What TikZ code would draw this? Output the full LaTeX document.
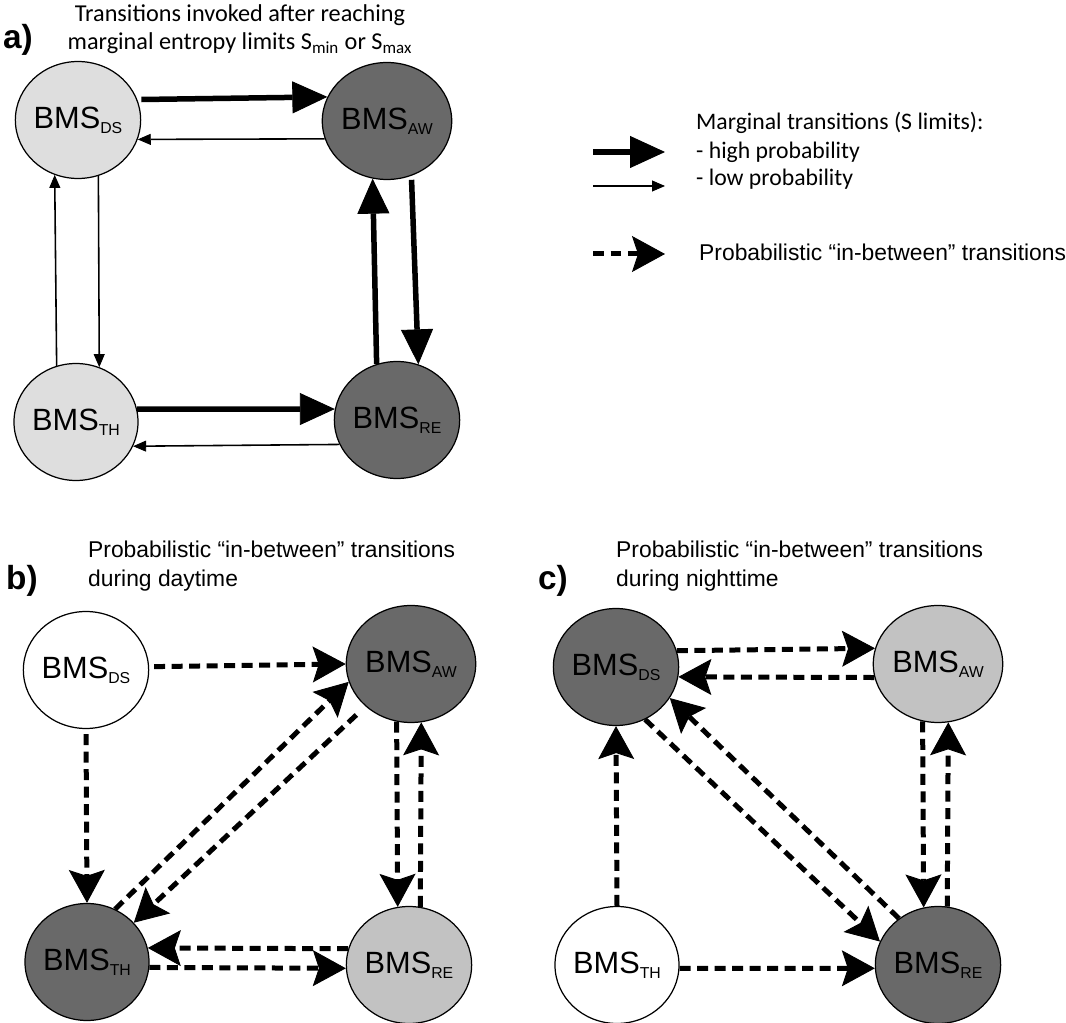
\documentclass[tikz,border=0pt]{standalone}
\usepackage{fontspec}
\newfontfamily\arialfont{Liberation Sans}
\newfontfamily\calibrifont{Carlito}
\usetikzlibrary{arrows.meta,shapes.geometric}

\definecolor{bmslight}{gray}{0.87}
\definecolor{bmsmid}{gray}{0.76}
\definecolor{bmsdark}{gray}{0.41}

\newcommand{\bms}[1]{BMS\raisebox{-0.3ex}{\fontsize{9}{9}\selectfont #1}}

\tikzset{
  bmsstate/.style={ellipse, draw, line width=0.7pt, minimum width=2.42cm, minimum height=2.34cm, inner sep=0pt, font=\arialfont\fontsize{17.5}{19}\selectfont},
  highp/.style={line width=0.11cm, -{Triangle[length=0.7cm,width=0.64cm,line width=0.5pt]}},
  lowp/.style={line width=0.9pt, -{Triangle[length=0.26cm,width=0.22cm,line width=0.5pt]}},
  inbetween/.style={line width=0.1cm, dash pattern=on 0.22cm off 0.13cm, -{Stealth[length=0.66cm,width=0.72cm,inset=0.12cm,line width=0.5pt]}},
  panel/.style={font=\arialfont\bfseries\fontsize{19}{21}\selectfont},
  heading/.style={font=\arialfont\fontsize{13}{16.4}\selectfont, align=left, anchor=west},
  legtext/.style={font=\calibrifont\fontsize{13.5}{15}\selectfont, anchor=west},
}

\begin{document}
\begin{tikzpicture}[x=0.02cm,y=-0.02cm]
  \useasboundingbox (0,0) rectangle (1066,1023);

  % panel a
  \node[panel] (laba) at (18,40) {a)};
  \node[font=\calibrifont\fontsize{13.8}{16}\selectfont, align=center] (headinga) at (240,29) {Transitions invoked after reaching\\marginal entropy limits S\textsubscript{min} or S\textsubscript{max}};

  \node[bmsstate, fill=bmslight] (dsa) at (78,120) {\bms{DS}};
  \node[bmsstate, fill=bmsdark] (awa) at (387,121) {\bms{AW}};
  \node[bmsstate, fill=bmslight] (tha) at (76,422) {\bms{TH}};
  \node[bmsstate, fill=bmsdark] (rea) at (397,420) {\bms{RE}};

  \draw[highp, shorten <=0.08cm] (dsa.19) -- (awa.158);
  \draw[lowp] (awa.196) -- (dsa.342);
  \draw[lowp] (dsa.-70) -- (tha.67);
  \draw[lowp] (tha.109) -- (dsa.247);
  \draw[highp] (tha.12) -- (rea.170);
  \draw[lowp] (rea.203) -- (tha.337);
  \draw[highp] (rea.110) -- (awa.256);
  \draw[highp, shorten <=0.08cm] (awa.294) -- (rea.69);

  % legend
  \coordinate (hps) at (593,152);
  \coordinate (hpe) at (665,152);
  \coordinate (lps) at (593,186);
  \coordinate (lpe) at (665,186);
  \coordinate (ibs) at (593,254);
  \coordinate (ibe) at (665,254);
  \draw[highp] (hps) -- (hpe);
  \draw[lowp] (lps) -- (lpe);
  \draw[inbetween] (ibs) -- (ibe);
  \node[legtext] (legmarg) at (690,123) {Marginal transitions (S limits):};
  \node[legtext] (leghigh) at (690,152) {- high probability};
  \node[legtext] (leglow) at (690,179) {- low probability};
  \node[heading] (legprob) at (693,252) {Probabilistic “in-between” transitions};

  % panel b
  \node[panel] (labb) at (22,581) {b)};
  \node[heading] (headingb) at (82,566) {Probabilistic “in-between” transitions\\during daytime};

  \node[bmsstate, fill=white] (dsb) at (86,670) {\bms{DS}};
  \node[bmsstate, fill=bmsdark] (awb) at (411,664) {\bms{AW}};
  \node[bmsstate, fill=bmsdark] (thb) at (87,962) {\bms{TH}};
  \node[bmsstate, fill=bmsmid] (reb) at (409,965) {\bms{RE}};

  \draw[inbetween, shorten <=0.1cm] (dsb.3) -- (awb.180);
  \draw[inbetween, shorten <=0.1cm] (dsb.-90) -- (thb.90);
  \draw[inbetween] (thb.62) -- (awb.196);
  \draw[inbetween, shorten <=0.25cm] (awb.223) -- (thb.40);
  \draw[inbetween] (awb.256) -- (reb.101);
  \draw[inbetween] (reb.79) -- (awb.280);
  \draw[inbetween] (reb.165) -- (thb.13);
  \draw[inbetween] (thb.-5) -- (reb.183);

  % panel c
  \node[panel] (labc) at (553,581) {c)};
  \node[heading] (headingc) at (610,566) {Probabilistic “in-between” transitions\\during nighttime};

  \node[bmsstate, fill=bmsdark] (dsc) at (616,667) {\bms{DS}};
  \node[bmsstate, fill=bmsmid] (awc) at (938,664) {\bms{AW}};
  \node[bmsstate, fill=white] (thc) at (617,965) {\bms{TH}};
  \node[bmsstate, fill=bmsdark] (rec) at (938,965) {\bms{RE}};

  \draw[inbetween] (dsc.15) -- (awc.166);
  \draw[inbetween] (awc.192) -- (dsc.351);
  \draw[inbetween] (dsc.299) -- (rec.158);
  \draw[inbetween] (rec.130) -- (dsc.330);
  \draw[inbetween] (awc.255) -- (rec.104);
  \draw[inbetween] (rec.81) -- (awc.280);
  \draw[inbetween] (thc.90) -- (dsc.270);
  \draw[inbetween] (thc.357) -- (rec.183);
\end{tikzpicture}
\end{document}
